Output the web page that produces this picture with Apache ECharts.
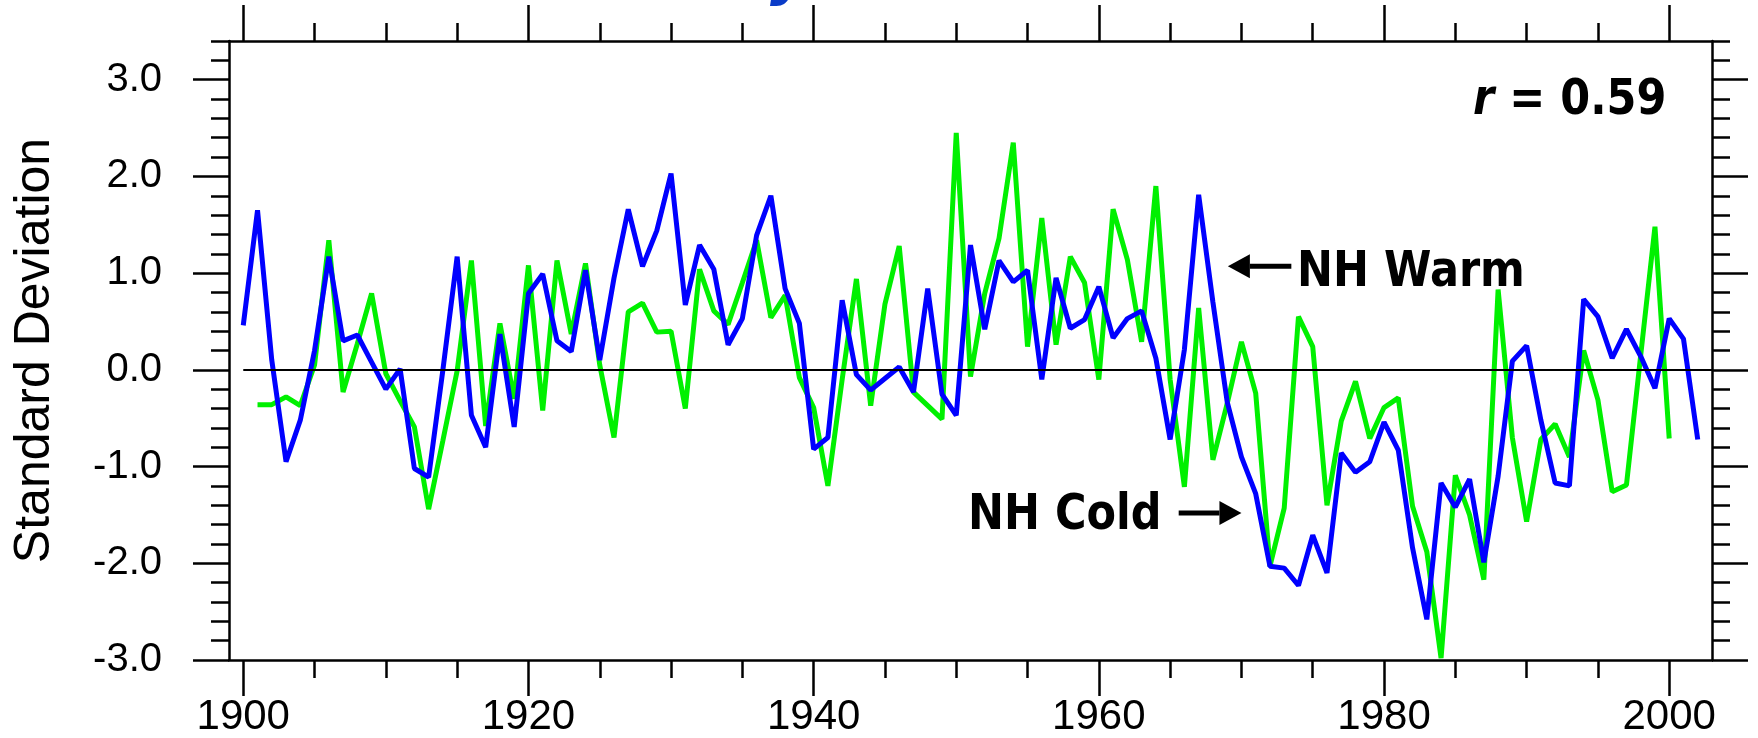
<!DOCTYPE html>
<html>
<head>
<meta charset="utf-8">
<script src="https://cdn.jsdelivr.net/npm/echarts@6/dist/echarts.min.js"></script>
<style>
  html, body { margin: 0; padding: 0; background: #ffffff; }
  #chart { width: 1758px; height: 738px; }
</style>
</head>
<body>
<div id="chart"></div>
<script>
// ---- data (standardised index, one value per year) ----
const firstYear = 1900
const nhWarm = [
  0.46, 1.65, 0.1, -0.95, -0.52, 0.2, 1.17, 0.30, 0.36, 0.08,
  -0.2, 0.01, -1.02, -1.11, 0.0, 1.17, -0.47, -0.8, 0.37, -0.59,
  0.79, 0.99, 0.30, 0.19, 1.03, 0.10, 0.95, 1.66, 1.07, 1.44,
  2.03, 0.67, 1.29, 1.04, 0.26, 0.53, 1.39, 1.80, 0.84, 0.48,
  -0.82, -0.70, 0.72, -0.05, -0.21, -0.09, 0.03, -0.23, 0.84, -0.25,
  -0.47, 1.29, 0.42, 1.13, 0.91, 1.03, -0.10, 0.95, 0.43, 0.52,
  0.86, 0.33, 0.53, 0.61, 0.12, -0.72, 0.21, 1.81, 0.7, -0.33,
  -0.90, -1.28, -2.03, -2.05, -2.23, -1.71, -2.10, -0.86, -1.06, -0.95,
  -0.54, -0.83, -1.84, -2.58, -1.17, -1.42, -1.13, -1.99, -1.10, 0.09,
  0.25, -0.52, -1.17, -1.20, 0.73, 0.55, 0.12, 0.42, 0.14, -0.19,
  0.53, 0.32, -0.72,
]
const nhCold = [
  null, -0.36, -0.36, -0.28, -0.37, 0.05, 1.34, -0.23, 0.27, 0.79,
  -0.04, -0.32, -0.59, -1.44, -0.73, -0.01, 1.13, -0.58, 0.48, -0.3,
  1.08, -0.42, 1.13, 0.37, 1.10, 0.05, -0.70, 0.60, 0.69, 0.39,
  0.40, -0.40, 1.04, 0.61, 0.47, 0.9, 1.34, 0.54, 0.77, -0.08,
  -0.39, -1.20, -0.1, 0.94, -0.37, 0.68, 1.28, -0.23, -0.37, -0.51,
  2.45, -0.07, 0.79, 1.36, 2.35, 0.24, 1.57, 0.26, 1.17, 0.90,
  -0.10, 1.66, 1.14, 0.29, 1.90, -0.1, -1.21, 0.64, -0.93, -0.35,
  0.29, -0.24, -2.03, -1.43, 0.55, 0.24, -1.40, -0.53, -0.12, -0.71,
  -0.39, -0.29, -1.41, -1.88, -2.98, -1.09, -1.5, -2.17, 0.83, -0.7,
  -1.57, -0.72, -0.56, -0.90, 0.20, -0.31, -1.26, -1.19, 0.15, 1.48,
  -0.71, null, null,
]
const xMajorTicks = [1900, 1920, 1940, 1960, 1980, 2000]
const xMinorTicks = [1905, 1910, 1915, 1925, 1930, 1935, 1945, 1950, 1955, 1965, 1970, 1975, 1985, 1990, 1995]
const yMajorTicks = [-3, -2, -1, 0, 1, 2, 3]
const yMinorTicks = [-2.8, -2.6, -2.4, -2.2, -1.8, -1.6, -1.4, -1.2, -0.8, -0.6, -0.4, -0.2,
  0.2, 0.4, 0.6, 0.8, 1.2, 1.4, 1.6, 1.8, 2.2, 2.4, 2.6, 2.8, 3.2, 3.4]
const correlationText = '0.59'

const toPairs = (arr) => arr
  .map((v, i) => [firstYear + i, v])
  .filter((p) => p[1] !== null)

const chart = echarts.init(document.getElementById('chart'))

const FONT = 'Liberation Sans'
const ANNOT_FONT = 'DejaVu Sans'
const frameLine = { show: true, onZero: false, lineStyle: { color: '#000', width: 2.5 } }
const noLine = { show: false, onZero: false }

// one helper for the four-sided NCL style frame: major + minor ticks on every side
const xAxisOf = (position, ticks, len, withLine, labels) => ({
  type: 'value',
  position,
  min: 1899,
  max: 2003,
  axisLine: withLine ? frameLine : noLine,
  axisTick: { show: true, inside: false, length: len, customValues: ticks, lineStyle: { color: '#000', width: 2.5 } },
  axisLabel: labels
    ? {
      show: true,
      customValues: ticks,
      margin: 36,
      fontSize: 42,
      fontFamily: FONT,
      color: '#000',
      formatter: (v) => String(v), // no thousands separator
    }
    : { show: false },
  splitLine: { show: false },
})
const yAxisOf = (position, ticks, len, withLine, labels) => ({
  type: 'value',
  position,
  min: -3,
  max: 3.4,
  axisLine: withLine ? frameLine : noLine,
  axisTick: { show: true, inside: false, length: len, customValues: ticks, lineStyle: { color: '#000', width: 2.5 } },
  axisLabel: labels
    ? {
      show: true,
      customValues: ticks,
      margin: 67,
      fontSize: 40,
      fontFamily: FONT,
      color: '#000',
      formatter: (v) => v.toFixed(1),
    }
    : { show: false },
  splitLine: { show: false },
})

const yLeft = yAxisOf('left', yMajorTicks, 36, true, true)
yLeft.name = 'Standard Deviation'
yLeft.nameLocation = 'middle'
yLeft.nameRotate = 90
yLeft.nameGap = 169
yLeft.nameTextStyle = { fontSize: 50, fontFamily: FONT, color: '#000' }

const options = {
  animation: false,
  backgroundColor: '#ffffff',
  grid: {
    left: 229,
    right: 46,
    top: 41,
    bottom: 78,
    containLabel: false,
    outerBoundsMode: 'none',
    show: false,
  },
  xAxis: [
    xAxisOf('bottom', xMajorTicks, 36, true, true),
    xAxisOf('bottom', xMinorTicks, 18, false, false),
    xAxisOf('top', xMajorTicks, 36, true, false),
    xAxisOf('top', xMinorTicks, 18, false, false),
  ],
  yAxis: [
    yLeft,
    yAxisOf('left', yMinorTicks, 18, false, false),
    yAxisOf('right', yMajorTicks, 36, true, false),
    yAxisOf('right', yMinorTicks, 18, false, false),
  ],
  series: [
    {
      name: 'NH Cold',
      type: 'line',
      xAxisIndex: 0,
      yAxisIndex: 0,
      data: toPairs(nhCold),
      showSymbol: false,
      lineStyle: { color: '#00f000', width: 5 },
      itemStyle: { color: '#00f000' },
      z: 2,
      markLine: {
        silent: true,
        symbol: 'none',
        label: { show: false },
        lineStyle: { color: '#000', width: 2.2, type: 'solid' },
        data: [[{ coord: [1900, 0] }, { coord: [2003, 0] }]],
      },
    },
    {
      name: 'NH Warm',
      type: 'line',
      xAxisIndex: 0,
      yAxisIndex: 0,
      data: toPairs(nhWarm),
      showSymbol: false,
      lineStyle: { color: '#0000ff', width: 5 },
      itemStyle: { color: '#0000ff' },
      z: 3,
    },
  ],
}
chart.setOption(options, true)

// ---- annotations, anchored in data coordinates ----
const px = (x, y) => chart.convertToPixel({ xAxisIndex: 0, yAxisIndex: 0 }, [x, y])
const arrow = (tail, tip) => {
  const dir = tip[0] > tail[0] ? 1 : -1
  const base = tip[0] - dir * 22
  return [
    { type: 'line', shape: { x1: tail[0], y1: tail[1], x2: base, y2: tip[1] }, style: { stroke: '#000', lineWidth: 5 }, z: 10 },
    { type: 'polygon', shape: { points: [[tip[0], tip[1]], [base, tip[1] - 12], [base, tip[1] + 12]] }, style: { fill: '#000' }, z: 10 },
  ]
}
const label = (p, text, align) => ({
  type: 'text',
  x: p[0],
  y: p[1],
  scaleY: 1.15,
  z: 10,
  style: {
    text,
    fill: '#000',
    font: `bold 43px "${ANNOT_FONT}"`,
    align,
    verticalAlign: 'middle',
  },
})

const warmTip = px(1969.05, 1.07)
const warmTail = px(1973.5, 1.07)
const coldTip = px(1970.0, -1.48)
const coldTail = px(1965.6, -1.48)
const rPos = px(1999.8, 2.78)

const graphic = [
  ...arrow(warmTail, warmTip),
  ...arrow(coldTail, coldTip),
  label(px(1973.9, 1.0), 'NH Warm', 'left'),
  label(px(1964.4, -1.51), 'NH Cold', 'right'),
  {
    type: 'text',
    x: rPos[0],
    y: rPos[1],
    scaleY: 1.15,
    z: 10,
    style: {
      text: `{i|r}{b| = ${correlationText}}`,
      align: 'right',
      verticalAlign: 'middle',
      rich: {
        i: { fontFamily: ANNOT_FONT, fontSize: 43, fontWeight: 'bold', fontStyle: 'italic', fill: '#000' },
        b: { fontFamily: ANNOT_FONT, fontSize: 43, fontWeight: 'bold', fill: '#000' },
      },
    },
  },
  // descender of the (cropped) figure title peeking in at the top edge
  {
    type: 'text',
    left: 770,
    top: -53,
    z: 10,
    style: {
      text: 'y',
      fill: '#0a3cc8',
      font: `italic bold 60px "${ANNOT_FONT}"`,
    },
  },
]
chart.setOption({ graphic })
</script>
</body>
</html>
